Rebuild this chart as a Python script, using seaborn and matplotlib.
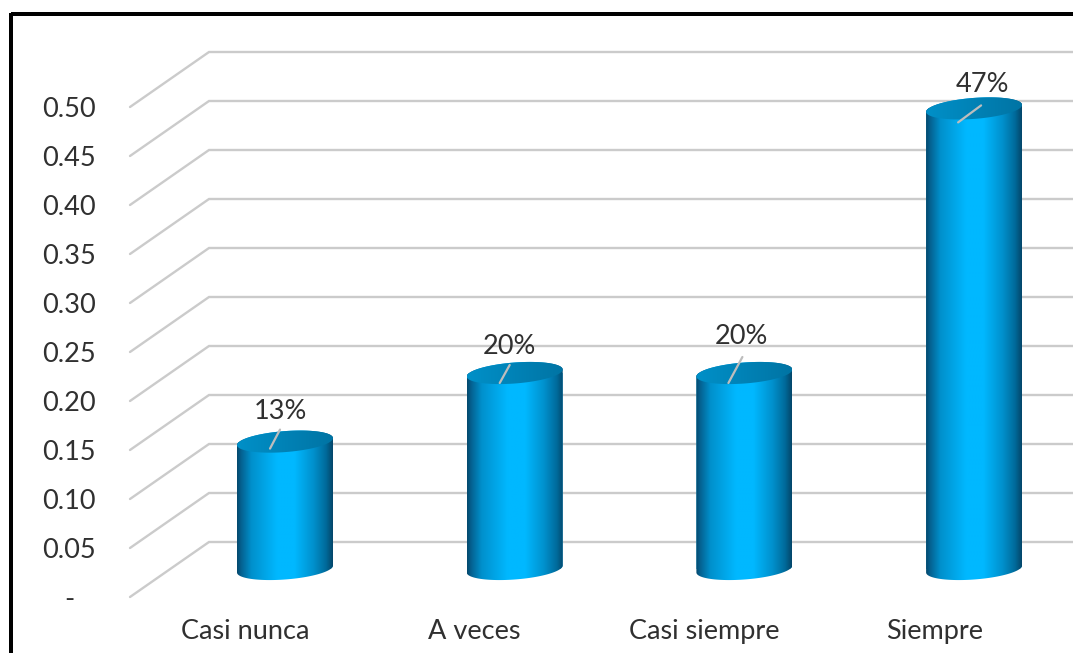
import numpy as np
import matplotlib
matplotlib.use("Agg")
import matplotlib.pyplot as plt
from matplotlib.colors import LinearSegmentedColormap
from matplotlib.lines import Line2D
from matplotlib.path import Path
from matplotlib.transforms import ScaledTranslation
import seaborn as sns

categories = ["Casi nunca", "A veces", "Casi siempre", "Siempre"]
values = [0.13, 0.20, 0.20, 0.47]
tick_values = [0.00, 0.05, 0.10, 0.15, 0.20, 0.25, 0.30, 0.35, 0.40, 0.45, 0.50]
tick_labels = ["-   ", "0.05", "0.10", "0.15", "0.20", "0.25", "0.30", "0.35", "0.40", "0.45", "0.50"]

# Label and leader-line placement relative to the top of each cylinder, in pixels
label_offsets = [(-5, 30), (-5, 27), (-3, 36), (8, 24)]
leader_starts = [(-15, -7), (-15, -10), (-16, -10), (-16, -14)]
leader_ends = [(-5, 12), (-5, 8), (-2, 16), (7, 3)]

W, H = 1073, 653
PX_PER_CAT = 229.7
PX_PER_UNIT = 980.0
FONT_SIZE = 19.5
TEXT = "#303030"
GRID = "#cbcbcb"

sns.set_theme(style="white")
plt.rcParams["font.family"] = ["Lato", "DejaVu Sans"]

fig = plt.figure(figsize=(W / 100, H / 100), dpi=100, facecolor="white")
axis_left, axis_bottom = 130, H - 597
axis_top = 597 - 0.58 * PX_PER_UNIT
ax = fig.add_axes([axis_left / W, axis_bottom / H, (W - axis_left) / W, (597 - axis_top) / H])
ax.patch.set_alpha(0)

bar_width = 96 / PX_PER_CAT
sns.barplot(x=categories, y=values, color="#00b0f0", width=bar_width, ax=ax, zorder=2)

x_lo = (130 - 245) / PX_PER_CAT
x_hi = (W - 245) / PX_PER_CAT
y_lo, y_hi = 0, 0.58

# Cylinders stand 40 px right of and 28 px above the front plane of the chart
depth = ax.transData + ScaledTranslation(0.40, 0.28, fig.dpi_scale_trans)

# Wall gridlines: a diagonal from the front edge, then along the back wall
wall_dx = 79 / PX_PER_CAT
wall_dy = 55 / PX_PER_UNIT
for v in tick_values:
    ax.plot([x_lo, x_lo + wall_dx, x_hi], [v, v + wall_dy, v + wall_dy],
            color=GRID, lw=1.7, zorder=1, solid_joinstyle="miter", clip_on=False)

body_cmap = LinearSegmentedColormap.from_list(
    "cyl", [(0, "#04486c"), (0.04, "#05608f"), (0.15, "#0090cc"), (0.42, "#00b8ff"),
            (0.6, "#00b8ff"), (0.8, "#0090cc"), (0.93, "#006a9a"), (1, "#04466a")])
cap_cmap = LinearSegmentedColormap.from_list(
    "cap", [(0, "#0090c8"), (0.5, "#0082b6"), (1, "#0074a4")])
ramp = np.linspace(0, 1, 256).reshape(1, -1)


def rim(cx, cy, t):
    """Points on a sheared ellipse, the visible rim of a cylinder."""
    return (cx + bar_width / 2 * np.cos(t),
            cy + (3.5 * np.cos(t) + 10.5 * np.sin(t)) / PX_PER_UNIT)


for patch, val, lab_off, lead_start, lead_end in zip(
        ax.patches, values, label_offsets, leader_starts, leader_ends):
    cx = patch.get_x() + patch.get_width() / 2
    x0, x1 = cx - bar_width / 2, cx + bar_width / 2

    lower = np.linspace(np.pi, 2 * np.pi, 60)
    upper = np.linspace(0, np.pi, 60)
    xb, yb = rim(cx, 0, lower)
    xt, yt = rim(cx, val, upper)
    body = Path(np.vstack([np.column_stack([xb, yb]), np.column_stack([xt, yt]),
                           [[xb[0], yb[0]]]]), closed=True)
    patch.set_transform(depth)
    patch.set_clip_path(body, transform=depth)
    patch.set_linewidth(0)

    shade = ax.imshow(ramp, extent=(x0, x1, -0.02, val + 0.02), aspect="auto",
                      cmap=body_cmap, zorder=3, interpolation="bilinear")
    shade.set_transform(depth)
    shade.set_clip_path(body, transform=depth)

    t = np.linspace(0, 2 * np.pi, 120)
    xc, yc = rim(cx, val, t)
    cap_path = Path(np.column_stack([xc, yc]), closed=True)
    cap = ax.imshow(ramp, extent=(x0, x1, val - 0.02, val + 0.02), aspect="auto",
                    cmap=cap_cmap, zorder=4, interpolation="bilinear")
    cap.set_transform(depth)
    cap.set_clip_path(cap_path, transform=depth)

    # Leader line and percentage label, anchored at the centre of the cap
    ax.plot([cx + lead_start[0] / PX_PER_CAT, cx + lead_end[0] / PX_PER_CAT],
            [val + lead_start[1] / PX_PER_UNIT, val + lead_end[1] / PX_PER_UNIT],
            transform=depth, color="#bdbdbd", lw=1.6, zorder=5, clip_on=False)
    ax.annotate(f"{val:.0%}", xy=(cx, val), xycoords=depth,
                xytext=(lab_off[0] * 0.72, lab_off[1] * 0.72), textcoords="offset points",
                ha="center", va="center", fontsize=FONT_SIZE, color=TEXT, zorder=6)

ax.set_xlim(x_lo, x_hi)
ax.set_ylim(y_lo, y_hi)
ax.set_xlabel("")
ax.set_ylabel("")
ax.set_yticks(tick_values)
ax.set_yticklabels(tick_labels)
ax.tick_params(axis="y", length=0, pad=24.5, labelsize=FONT_SIZE, labelcolor=TEXT)
ax.tick_params(axis="x", length=0, pad=16, labelsize=FONT_SIZE, labelcolor=TEXT)
sns.despine(ax=ax, left=True, bottom=True)

# Heavy black frame along the top and left of the figure
frame_w = 4 * 0.72
for xs, ys in [([11, W + 5], [14, 14]), ([11, 11], [12.5, H + 5])]:
    fig.add_artist(Line2D([x / W for x in xs], [1 - y / H for y in ys],
                          transform=fig.transFigure, color="black", lw=frame_w,
                          solid_capstyle="butt"))

fig.savefig("out.png", dpi=100, facecolor="white")
